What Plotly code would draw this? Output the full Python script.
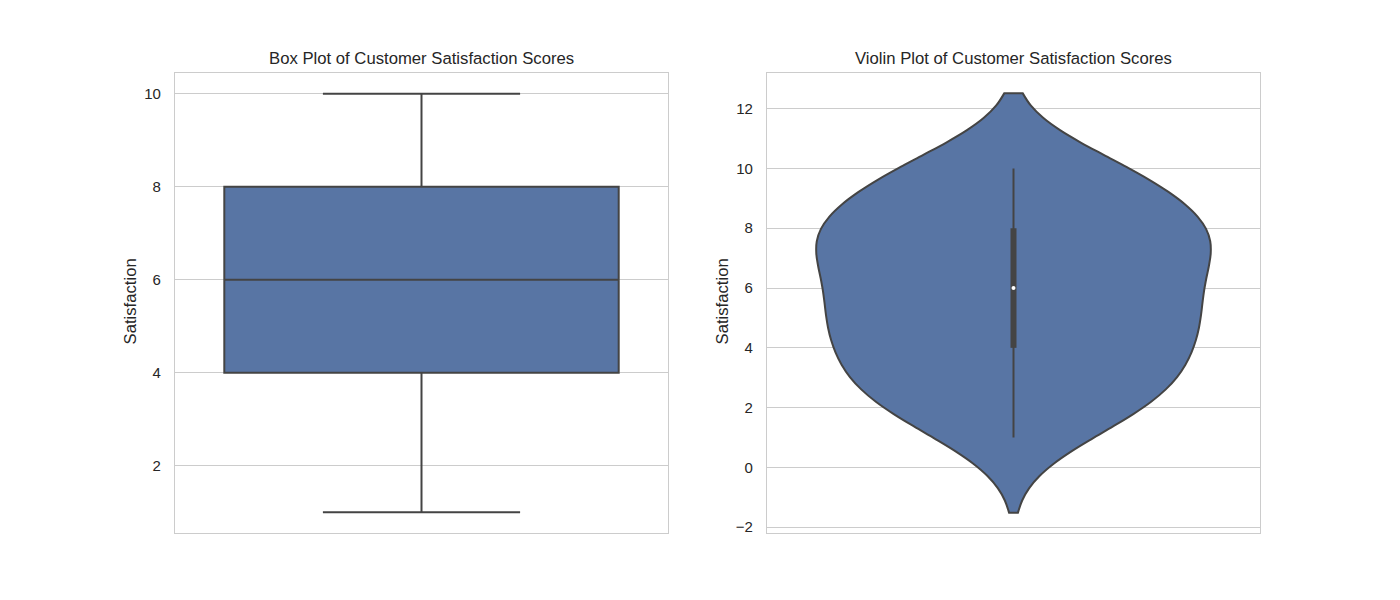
import numpy as np
import plotly.graph_objects as go

satisfaction = [1, 1,
                2, 2, 2, 2,
                3, 3, 3, 3, 3,
                4, 4, 4, 4,
                5, 5, 5, 5, 5, 5,
                6, 6, 6, 6,
                7, 7, 7, 7, 7,
                8, 8, 8, 8, 8, 8, 8,
                9, 9, 9,
                10, 10, 10, 10, 10]
box_title = "Box Plot of Customer Satisfaction Scores"
violin_title = "Violin Plot of Customer Satisfaction Scores"
y_label = "Satisfaction"
box_yticks = [2, 4, 6, 8, 10]
violin_yticks = [-2, 0, 2, 4, 6, 8, 10, 12]

FILL = "#5875a4"
EDGE = "#444444"
GRID = "#cccccc"
TEXT = "#262626"
FONT = "Liberation Sans, Arial, sans-serif"

s = np.array(satisfaction, dtype=float)
q1, med, q3 = np.percentile(s, [25, 50, 75])
lo, hi = s.min(), s.max()
# Scott's rule bandwidth (as used by seaborn's violinplot)
bw = s.std(ddof=1) * len(s) ** (-1 / 5)

fig = go.Figure()
fig.add_trace(go.Box(x=[0], q1=[q1], median=[med], q3=[q3], lowerfence=[lo], upperfence=[hi],
                     width=0.8, fillcolor=FILL, line=dict(color=EDGE, width=2), whiskerwidth=0.5,
                     boxpoints=False, hoverinfo="skip", xaxis="x", yaxis="y"))
fig.add_trace(go.Violin(y=satisfaction, x0=0, bandwidth=bw, spanmode="soft", scalemode="width", width=0.8,
                        fillcolor=FILL, line=dict(color=EDGE, width=2), points=False,
                        box_visible=False, meanline_visible=False, hoverinfo="skip", xaxis="x2", yaxis="y2"))
fig.add_trace(go.Scatter(x=[0, 0], y=[lo, hi], mode="lines", line=dict(color=EDGE, width=2),
                         hoverinfo="skip", xaxis="x2", yaxis="y2"))
fig.add_trace(go.Scatter(x=[0, 0], y=[q1, q3], mode="lines", line=dict(color=EDGE, width=6),
                         hoverinfo="skip", xaxis="x2", yaxis="y2"))
fig.add_trace(go.Scatter(x=[0], y=[med], mode="markers", marker=dict(color="white", size=4, line=dict(width=0)),
                         hoverinfo="skip", xaxis="x2", yaxis="y2"))

ax_common = dict(showline=True, mirror=True, linecolor=GRID, linewidth=1.25, zeroline=False)
xcommon = dict(ax_common, range=[-0.5, 0.5], showticklabels=False, showgrid=False, ticks="")
ycommon = dict(ax_common, showgrid=True, gridcolor=GRID, gridwidth=1, ticks="outside", ticklen=10,
               tickcolor="rgba(0,0,0,0)", tickfont=dict(size=15, color=TEXT, family=FONT))

L0, L1 = 175 / 1400, 668 / 1400
R0, R1 = 767 / 1400, 1260 / 1400
B, T = 1 - 535 / 600, 1 - 73 / 600

fig.update_layout(
    width=1400, height=600, margin=dict(l=0, r=0, t=0, b=0),
    paper_bgcolor="white", plot_bgcolor="white", showlegend=False,
    font=dict(family=FONT, color=TEXT),
    xaxis=dict(xcommon, domain=[L0, L1]),
    yaxis=dict(ycommon, domain=[B, T], range=[0.55, 10.45], tickvals=box_yticks),
    xaxis2=dict(xcommon, domain=[R0, R1], anchor="y2"),
    yaxis2=dict(ycommon, domain=[B, T], range=[-2.2, 13.2], tickvals=violin_yticks, anchor="x2"),
)

ann = []
for x0, x1, title in [(L0, L1, box_title), (R0, R1, violin_title)]:
    ann.append(dict(text=title, x=(x0 + x1) / 2, y=1 - 70.5 / 600, xref="paper", yref="paper",
                    xanchor="center", yanchor="bottom", showarrow=False, font=dict(size=16.7, color=TEXT)))
for xc in [130.5, 722.5]:
    ann.append(dict(text=y_label, x=xc / 1400, y=1 - 303 / 600, xref="paper", yref="paper",
                    xanchor="center", yanchor="middle", textangle=-90, showarrow=False,
                    font=dict(size=16.7, color=TEXT)))
fig.update_layout(annotations=ann)

fig.write_html("out.html")
